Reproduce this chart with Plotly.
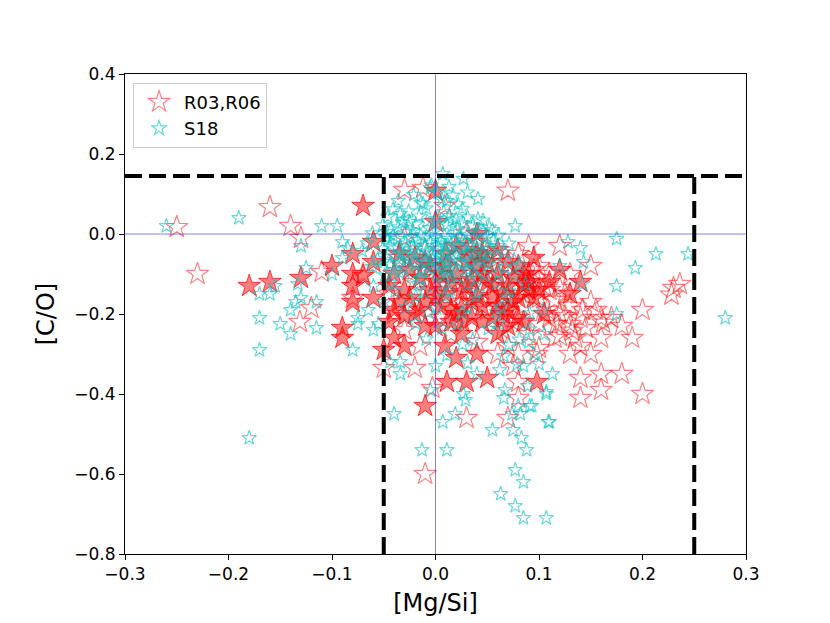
import plotly.graph_objects as go

# [Mg/Si], [C/O] pairs
r03_open = [
    (-0.25, 0.017), (-0.23, -0.10), (-0.16, 0.067), (-0.14, 0.02), (-0.13, -0.01),
    (-0.11, -0.095), (-0.131, -0.22), (-0.12, -0.185), (-0.03, 0.11), (-0.012, 0.115),
    (0.07, 0.108), (0.009, 0.07), (0.09, -0.03), (0.08, -0.05), (0.12, -0.03),
    (0.15, -0.08), (0.10, -0.08), (0.11, -0.10), (0.13, -0.10), (0.12, -0.135),
    (0.11, -0.14), (0.23, -0.135), (0.228, -0.152), (0.236, -0.125), (0.15, -0.17),
    (0.20, -0.19), (0.16, -0.21), (0.14, -0.21), (0.162, -0.222), (0.18, -0.23),
    (0.12, -0.255), (0.14, -0.28), (0.13, -0.30), (0.15, -0.30), (0.16, -0.26),
    (0.19, -0.26), (0.14, -0.36), (0.16, -0.35), (0.18, -0.35), (0.16, -0.39),
    (0.14, -0.41), (0.20, -0.40), (0.10, -0.225), (0.10, -0.285), (0.098, -0.30),
    (0.125, -0.205), (0.13, -0.225), (0.132, -0.242), (0.117, -0.225), (0.11, -0.21),
    (-0.05, -0.335), (-0.02, -0.335), (0.03, -0.46), (-0.01, -0.60), (0.08, -0.37),
    (0.07, -0.46), (0.08, -0.41), (-0.003, -0.385), (0.13, -0.18), (0.12, -0.20),
    (0.142, -0.19), (0.125, -0.15), (0.10, -0.16), (0.09, -0.12), (0.06, -0.06),
    (0.05, -0.045), (0.04, -0.02), (0.03, 0.003), (-0.03, -0.01), (-0.07, -0.10),
    (-0.08, -0.16), (-0.04, -0.20), (0.08, -0.30), (0.075, -0.33), (0.07, -0.28),
    (-0.035, -0.06), (-0.02, -0.12), (-0.01, -0.04), (0.0, -0.09), (0.012, -0.13),
    (0.02, -0.06), (0.025, -0.17), (0.035, -0.10), (0.045, -0.14), (0.05, -0.19),
    (0.055, -0.08), (0.065, -0.12), (0.07, -0.16), (0.075, -0.22), (0.085, -0.18),
    (0.09, -0.25), (0.095, -0.09), (0.105, -0.13), (0.108, -0.19), (0.115, -0.26),
    (-0.045, -0.15), (-0.03, -0.24), (-0.015, -0.28), (0.005, -0.21), (0.015, -0.25),
    (0.04, -0.27), (0.06, -0.30), (0.065, -0.24), (0.085, -0.15), (0.1, -0.11),
    (0.115, -0.165), (0.135, -0.26), (0.145, -0.235), (0.155, -0.19), (0.17, -0.21),
]

r03_fill = [
    (-0.18, -0.13), (-0.16, -0.12), (-0.13, -0.11), (-0.10, -0.08), (-0.08, -0.05),
    (-0.08, -0.10), (-0.08, -0.13), (-0.08, -0.17), (-0.09, -0.235), (-0.09, -0.26),
    (-0.06, -0.02), (-0.06, -0.07), (-0.07, -0.105), (-0.06, -0.16), (-0.05, -0.29),
    (-0.07, 0.07), (0.0, 0.108), (0.04, 0.0), (0.0, 0.03), (-0.04, -0.26),
    (-0.03, -0.28), (0.009, -0.28), (0.02, -0.31), (0.04, -0.30), (0.011, -0.37),
    (0.03, -0.37), (0.05, -0.36), (-0.01, -0.43), (0.098, -0.37), (0.14, -0.12),
    (-0.04, -0.10), (-0.03, -0.14), (-0.02, -0.20), (-0.01, -0.17), (0.0, -0.12),
    (0.01, -0.15), (0.02, -0.10), (0.02, -0.20), (0.03, -0.13), (0.035, -0.17),
    (0.04, -0.08), (0.045, -0.22), (0.05, -0.12), (0.055, -0.16), (0.06, -0.10),
    (0.065, -0.20), (0.07, -0.13), (0.075, -0.17), (0.08, -0.08), (0.085, -0.22),
    (0.09, -0.14), (0.09, -0.10), (-0.035, -0.05), (-0.02, -0.06), (0.01, -0.05),
    (0.03, -0.04), (-0.045, -0.22), (0.0, -0.23), (0.025, -0.25), (0.06, -0.25),
    (-0.005, -0.08), (0.015, -0.19), (0.045, -0.05), (-0.03, -0.205), (0.079, -0.21),
    (0.026, -0.22), (0.09, -0.12), (0.04, -0.048),
    (-0.025, -0.09), (-0.015, -0.11), (-0.005, -0.14), (0.005, -0.10), (0.015, -0.12),
    (0.025, -0.145), (0.035, -0.115), (0.045, -0.10), (0.055, -0.13), (0.065, -0.15),
    (0.075, -0.11), (0.085, -0.13), (0.095, -0.16), (-0.035, -0.17), (-0.025, -0.16),
    (-0.015, -0.19), (0.005, -0.18), (0.025, -0.185), (0.045, -0.18), (0.06, -0.18),
    (0.07, -0.19), (0.08, -0.16), (0.10, -0.14), (0.11, -0.12), (0.12, -0.09),
    (0.03, -0.07), (0.05, -0.07), (0.07, -0.07), (0.01, -0.08), (-0.01, -0.07),
    (0.035, -0.21), (0.055, -0.21), (0.015, -0.22), (-0.01, -0.23), (0.07, -0.23),
    (0.105, -0.20), (0.095, -0.06), (0.06, -0.04), (0.02, -0.03), (-0.045, -0.13),
    (-0.04, -0.19), (0.0, -0.16), (0.04, -0.155), (0.085, -0.10), (0.13, -0.15),
]

s18 = [
    (-0.26, 0.02), (-0.19, 0.04), (-0.18, -0.51), (-0.11, 0.02), (-0.095, 0.02),
    (-0.13, -0.03), (-0.125, -0.085), (-0.17, -0.15), (-0.16, -0.15), (-0.155, -0.13),
    (-0.14, -0.19), (-0.135, -0.17), (-0.13, -0.16), (-0.115, -0.17), (-0.17, -0.21),
    (-0.15, -0.225), (-0.14, -0.25), (-0.115, -0.235), (-0.17, -0.29), (-0.08, -0.29),
    (-0.075, -0.21), (-0.075, -0.225), (-0.06, -0.24), (-0.055, -0.225), (-0.085, -0.035),
    (-0.09, -0.02), (-0.09, -0.06), (-0.065, -0.19), (-0.133, -0.125), (-0.10, -0.10),
    (0.007, 0.15), (0.027, 0.138), (0.041, 0.088), (0.011, 0.083), (-0.005, 0.115),
    (0.077, 0.02), (-0.034, 0.05), (-0.025, 0.03), (-0.012, 0.075), (0.041, 0.037),
    (0.02, 0.037), (0.128, -0.02), (0.14, -0.035), (0.175, -0.012), (0.213, -0.05),
    (0.244, -0.05), (0.143, -0.07), (0.193, -0.085), (0.142, -0.125), (0.175, -0.13),
    (0.104, -0.19), (0.175, -0.20), (0.28, -0.21), (0.113, -0.35), (0.107, -0.395),
    (0.10, -0.325), (0.11, -0.47), (0.093, -0.43), (-0.04, -0.45), (-0.013, -0.54),
    (0.011, -0.54), (0.007, -0.47), (0.019, -0.45), (0.0, -0.33), (-0.005, -0.39),
    (0.027, -0.40), (0.029, -0.415), (0.055, -0.49), (0.067, -0.39), (0.066, -0.41),
    (0.075, -0.49), (0.083, -0.51), (0.088, -0.54), (0.077, -0.59), (0.085, -0.62),
    (0.063, -0.65), (0.077, -0.68), (0.085, -0.71), (0.107, -0.71), (0.091, -0.43),
    (0.08, -0.43), (0.074, -0.45), (-0.034, -0.35), (-0.034, -0.32), (-0.044, -0.32),
    (0.04, -0.35), (0.062, -0.34), (0.089, -0.38), (0.107, -0.40), (0.082, -0.45),
    (0.109, -0.47), (0.12, -0.08), (0.105, -0.25), (0.09, -0.27), (0.095, -0.30),
    (0.085, -0.33), (-0.06, -0.13), (-0.05, -0.17),
    # dense core
    (-0.004, 0.122), (0.013, 0.118), (-0.021, 0.098), (0.002, 0.103), (0.017, 0.096),
    (0.031, 0.104), (-0.036, 0.083), (-0.014, 0.078), (0.006, 0.086), (0.022, 0.074),
    (-0.041, 0.062), (-0.026, 0.057), (-0.009, 0.064), (0.008, 0.055), (0.026, 0.063),
    (-0.046, 0.043), (-0.031, 0.036), (-0.016, 0.044), (0.001, 0.038), (0.013, 0.045),
    (0.031, 0.042), (0.046, 0.034), (-0.051, 0.022), (-0.036, 0.017), (-0.019, 0.024),
    (-0.006, 0.015), (0.011, 0.023), (0.021, 0.012), (0.036, 0.021), (0.052, 0.016),
    (-0.061, 0.002), (-0.041, -0.004), (-0.027, 0.005), (-0.014, -0.003), (-0.002, 0.004),
    (0.009, -0.005), (0.019, 0.003), (0.031, -0.002), (0.046, 0.006), (0.061, -0.004),
    (-0.066, -0.023), (-0.046, -0.016), (-0.029, -0.024), (-0.017, -0.015), (-0.005, -0.022),
    (0.005, -0.017), (0.015, -0.025), (0.027, -0.018), (0.041, -0.023), (0.056, -0.016),
    (0.071, -0.024), (-0.071, -0.042), (-0.051, -0.037), (-0.034, -0.045), (-0.021, -0.036),
    (-0.009, -0.044), (0.001, -0.038), (0.011, -0.046), (0.023, -0.035), (0.036, -0.043),
    (0.051, -0.037), (0.066, -0.045), (-0.056, -0.063), (-0.039, -0.056), (-0.027, -0.064),
    (-0.014, -0.055), (-0.003, -0.063), (0.007, -0.057), (0.017, -0.065), (0.029, -0.054),
    (0.043, -0.062), (0.059, -0.057), (0.076, -0.064), (-0.061, -0.082), (-0.044, -0.076),
    (-0.031, -0.085), (-0.019, -0.074), (-0.007, -0.083), (0.003, -0.077), (0.013, -0.086),
    (0.025, -0.075), (0.037, -0.084), (0.051, -0.076), (0.067, -0.083), (0.081, -0.078),
    (-0.049, -0.103), (-0.035, -0.096), (-0.023, -0.105), (-0.011, -0.094), (0.001, -0.102),
    (0.011, -0.097), (0.021, -0.106), (0.033, -0.095), (0.047, -0.103), (0.061, -0.097),
    (0.076, -0.104), (-0.044, -0.122), (-0.017, -0.125), (0.007, -0.123), (0.031, -0.126),
    (0.059, -0.124), (0.087, -0.125), (-0.039, -0.143), (-0.011, -0.145), (0.013, -0.144),
    (0.041, -0.146), (0.071, -0.143), (-0.019, -0.156), (0.009, -0.157), (0.039, -0.155),
    (0.069, -0.158), (-0.029, -0.183), (0.001, -0.185), (0.031, -0.186), (0.063, -0.184),
    (-0.007, -0.196), (0.026, -0.197), (0.059, -0.195), (0.091, -0.198), (-0.019, -0.223),
    (0.021, -0.225), (0.061, -0.224), (0.006, -0.236), (0.051, -0.237), (0.091, -0.238),
    (-0.009, -0.263), (0.036, -0.265), (0.081, -0.264), (0.026, -0.276), (0.071, -0.277),
    (0.011, -0.303), (0.066, -0.305), (0.031, -0.323), (0.079, -0.325),
    (-0.043, 0.012), (-0.032, 0.028), (-0.022, 0.009), (-0.008, 0.031), (0.004, 0.026),
    (0.016, 0.034), (0.027, 0.027), (0.042, 0.008), (-0.048, -0.008), (-0.037, -0.012),
    (-0.024, -0.008), (-0.011, -0.011), (0.0, -0.009), (0.012, -0.012), (0.024, -0.009),
    (0.036, -0.010), (0.050, -0.007), (-0.044, -0.029), (-0.034, -0.031), (-0.022, -0.028),
    (-0.010, -0.030), (0.002, -0.029), (0.010, -0.031), (0.021, -0.028), (0.033, -0.030),
    (0.047, -0.029), (-0.046, -0.050), (-0.030, -0.052), (-0.017, -0.049), (-0.004, -0.051),
    (0.008, -0.049), (0.020, -0.051), (0.032, -0.048), (0.046, -0.052), (-0.050, -0.070),
    (-0.035, -0.072), (-0.022, -0.069), (-0.010, -0.071), (0.0, -0.069), (0.012, -0.071),
    (0.022, -0.069), (0.034, -0.072), (0.048, -0.068), (-0.040, -0.090), (-0.014, -0.089),
    (0.008, -0.089), (0.030, -0.088), (-0.015, -0.112), (0.015, -0.111), (0.040, -0.112),
    (-0.047, 0.005), (0.055, 0.010), (0.060, -0.030),
]

# limits of the selection box
co_top = 0.145
mgsi_low = -0.05
mgsi_high = 0.25

x_ticks = [-0.3, -0.2, -0.1, 0.0, 0.1, 0.2, 0.3]
y_ticks = [-0.8, -0.6, -0.4, -0.2, 0.0, 0.2, 0.4]

fig = go.Figure()

ox, oy = zip(*r03_open)
fig.add_trace(go.Scatter(
    x=ox, y=oy, mode="markers", name="R03,R06",
    marker=dict(symbol="star-open", size=17, color="rgba(255,0,0,0.5)",
                line=dict(width=1.2)),
))

fx, fy = zip(*r03_fill)
fig.add_trace(go.Scatter(
    x=fx, y=fy, mode="markers", showlegend=False,
    marker=dict(symbol="star", size=17, color="rgba(255,0,0,0.5)",
                line=dict(width=1, color="rgba(255,0,0,0.7)")),
))

sx, sy = zip(*s18)
fig.add_trace(go.Scatter(
    x=sx, y=sy, mode="markers", name="S18",
    marker=dict(symbol="star-open", size=11, color="rgba(0,191,191,0.6)",
                line=dict(width=1.2)),
))

# zero lines
fig.add_trace(go.Scatter(x=[x_ticks[0], x_ticks[-1]], y=[0, 0], mode="lines",
                         showlegend=False, hoverinfo="skip",
                         line=dict(color="rgba(0,0,255,0.5)", width=1)))
fig.add_trace(go.Scatter(x=[0, 0], y=[y_ticks[0], y_ticks[-1]], mode="lines",
                         showlegend=False, hoverinfo="skip",
                         line=dict(color="rgba(0,0,255,0.5)", width=1)))

# dashed box
dash = dict(color="black", width=4, dash="17px,7px")
fig.add_trace(go.Scatter(x=[x_ticks[0], x_ticks[-1]], y=[co_top, co_top], mode="lines",
                         showlegend=False, hoverinfo="skip", line=dash))
fig.add_trace(go.Scatter(x=[mgsi_low, mgsi_low], y=[y_ticks[0], co_top], mode="lines",
                         showlegend=False, hoverinfo="skip", line=dash))
fig.add_trace(go.Scatter(x=[mgsi_high, mgsi_high], y=[y_ticks[0], co_top], mode="lines",
                         showlegend=False, hoverinfo="skip", line=dash))

axis_style = dict(showgrid=False, zeroline=False, showline=True, mirror=True,
                  linecolor="black", linewidth=1, ticks="outside", ticklen=5,
                  tickcolor="black", tickformat=".1f",
                  tickfont=dict(size=17, color="black"))

fig.update_layout(
    width=830, height=623,
    margin=dict(l=117, r=92, t=66, b=77),
    plot_bgcolor="white", paper_bgcolor="white",
    font=dict(family="DejaVu Sans", color="black"),
    xaxis=dict(range=[x_ticks[0], x_ticks[-1]], tickvals=x_ticks,
               title=dict(text="[Mg/Si]", font=dict(size=24), standoff=10), **axis_style),
    yaxis=dict(range=[y_ticks[0], y_ticks[-1]], tickvals=y_ticks,
               title=dict(text="[C/O]", font=dict(size=24), standoff=12), **axis_style),
    legend=dict(x=0.013, y=0.982, xanchor="left", yanchor="top", traceorder="normal",
                bgcolor="rgba(255,255,255,0.8)", bordercolor="#cccccc", borderwidth=1,
                font=dict(size=18), itemwidth=40),
    showlegend=True,
)

fig.write_html("out.html")
